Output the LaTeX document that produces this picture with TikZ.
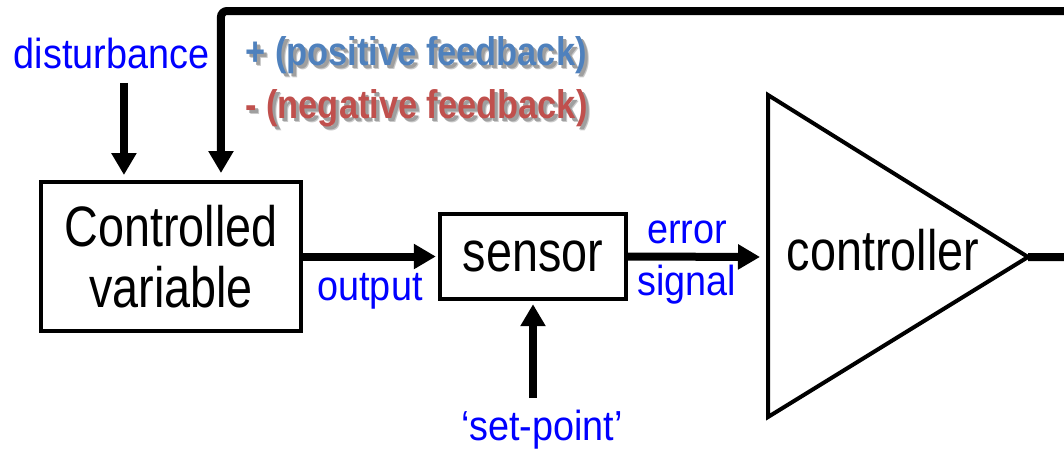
\documentclass[tikz,border=0pt]{standalone}
\usepackage{fontspec}
\setmainfont{Liberation Sans}[FakeStretch=0.82]
\newfontfamily\labelfont{Liberation Sans}[FakeStretch=0.9]
\newfontfamily\fbfont{Liberation Sans}[FakeStretch=0.86]
\usetikzlibrary{arrows.meta,calc}
\definecolor{labelblue}{RGB}{0,0,255}
\definecolor{posblue}{RGB}{79,129,189}
\definecolor{negred}{RGB}{192,80,77}
\definecolor{shadowgray}{RGB}{80,80,80}
% text with a soft drop shadow
\newcommand{\shadowtext}[2]{%
	\makebox[0pt][l]{\kern2pt\raisebox{-2pt}{\color{shadowgray!30}#2}}%
	\makebox[0pt][l]{\kern1.5pt\raisebox{-1.5pt}{\color{shadowgray!55}#2}}%
	\textcolor{#1}{#2}}
\begin{document}
\begin{tikzpicture}[x=0.5pt, y=-0.5pt,
		block/.style = {draw, line width=2.2pt, font=\fontsize{28.5}{30.5}\selectfont, align=center, inner sep=0pt},
		siglabel/.style = {text=labelblue, font=\labelfont\fontsize{21}{23}\selectfont, inner sep=0pt, anchor=base},
		flow/.style = {line width=4pt, -{Triangle[width=12pt,length=11pt]}},
		fbtext/.style = {font=\fbfont\bfseries\fontsize{20}{22}\selectfont, inner sep=0pt, anchor=base west}]
		\useasboundingbox (0, 0) rectangle (1064, 451);
		\clip (0, 0) rectangle (1064, 451);
		% blocks
		\node[block, minimum width=130pt, minimum height=74.3pt] (cv) at (171, 256.5) {Controlled\\variable};
		\node[block, minimum width=93pt, minimum height=42.5pt] (sensor) at (533, 256.5) {sensor};
		\coordinate (ctrl-top) at (768, 95);
		\coordinate (ctrl-tip) at (1028, 257);
		\coordinate (ctrl-bot) at (768, 417);
		\coordinate (ctrl-in) at (768, 257);
		\draw[line width=2pt] (ctrl-top) -- (ctrl-tip) -- (ctrl-bot) -- cycle;
		\node[font=\fontsize{28.5}{30.5}\selectfont, inner sep=0pt, anchor=base] (controller) at (883, 270) {controller};
		% signal labels
		\node[siglabel] (disturbance) at (111.5, 68) {disturbance};
		\node[siglabel] (output) at (370, 300) {output};
		\node[siglabel] (error) at (687, 243) {error};
		\node[siglabel] (signal) at (687, 295) {signal};
		\node[siglabel] (setpoint) at (542, 440) {‘set-point’};
		\node[fbtext] (posfb) at (245, 65) {\shadowtext{posblue}{+ (positive feedback)}};
		\node[fbtext] (negfb) at (245, 118) {\shadowtext{negred}{- (negative feedback)}};
		% connectors
		\coordinate (dist-in) at ($(cv.north west)!0.322!(cv.north east)$);
		\coordinate (fb-in) at ($(cv.north west)!0.689!(cv.north east)$);
		\coordinate (fb-top) at (0, 11);
		\draw[flow, shorten <=7pt, shorten >=2.5pt] (disturbance.south -| dist-in) -- (dist-in);
		\draw[flow, shorten >=1pt] (cv.east) -- (sensor.west);
		\draw[flow, shorten >=4pt] (sensor.east) -- (ctrl-in);
		\draw[flow, shorten <=5.5pt, shorten >=1.5pt] (sensor.south |- setpoint.north) -- (sensor.south);
		\draw[flow, shorten >=3.5pt, rounded corners=3pt] (ctrl-tip) -- ++(70, 0) |- (fb-in |- fb-top) -- (fb-in);
	\end{tikzpicture}
\end{document}
